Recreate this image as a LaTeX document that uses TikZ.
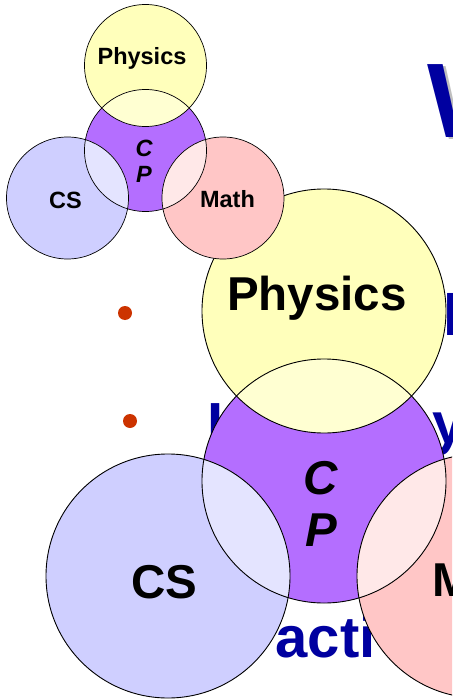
\documentclass[tikz,border=0pt]{standalone}
\usepackage{fontspec}
\setmainfont{Liberation Sans}
\definecolor{phy}{HTML}{FFFFBB}
\definecolor{cpc}{HTML}{B46EFF}
\definecolor{csc}{HTML}{CFCFFF}
\definecolor{mac}{HTML}{FFC6C6}
\definecolor{phycp}{HTML}{FFFFD2}
\definecolor{cscp}{HTML}{E4E4FF}
\definecolor{macp}{HTML}{FFE8E8}
\definecolor{slideblue}{HTML}{0000A0}
\definecolor{bulletc}{HTML}{CC3300}
\tikzset{
  lbl/.style={anchor=base,inner sep=0pt,text=black},
  slidetxt/.style={anchor=base west,inner sep=0pt,text=slideblue,font=\fontsize{58}{58}\selectfont\bfseries},
  ring/.style={draw=black,line width=#1},
}
% #1,#2 shift, #3 scale, #4 font size, #5 name suffix, #6 outline width
\newcommand\venndiagram[6]{%
\begin{scope}[shift={(#1,#2)},scale=#3]
  \fill[phy] (145.5,65.5) circle[radius=61];
  \fill[cpc] (145.5,150.5) circle[radius=61];
  \fill[csc] (67.5,198) circle[radius=61];
  \fill[mac] (223,198) circle[radius=61];
  \begin{scope}
    \clip (145.5,150.5) circle[radius=61];
    \fill[phycp] (145.5,65.5) circle[radius=61];
    \fill[cscp] (67.5,198) circle[radius=61];
    \fill[macp] (223,198) circle[radius=61];
  \end{scope}
  \draw[ring=#6] (145.5,65.5) circle[radius=61];
  \draw[ring=#6] (145.5,150.5) circle[radius=61];
  \draw[ring=#6] (67.5,198) circle[radius=61];
  \draw[ring=#6] (223,198) circle[radius=61];
  \node[lbl,font=\fontsize{#4}{#4}\selectfont\bfseries] (phys#5) at (142,65) {Physics};
  \node[lbl,font=\fontsize{#4}{#4}\selectfont\bfseries\itshape] (c#5) at (144,157) {C};
  \node[lbl,font=\fontsize{#4}{#4}\selectfont\bfseries\itshape] (p#5) at (144,183) {P};
  \node[lbl,font=\fontsize{#4}{#4}\selectfont\bfseries] (cs#5) at (65.5,209) {CS};
  \node[lbl,font=\fontsize{#4}{#4}\selectfont\bfseries] (math#5) at (227.5,208) {Math};
\end{scope}}
\begin{document}
\begin{tikzpicture}[x=1pt,y=-1pt]
\useasboundingbox (0,0) rectangle (452,700);
\clip (0,0) rectangle (452,700);
\fill[white] (0,0) rectangle (452,700);
% slide background
\node[anchor=base west,inner sep=0pt,text=black!25,font=\fontsize{106}{106}\selectfont\bfseries] (wshadow) at (430,140) {W};
\node[anchor=base west,inner sep=0pt,text=slideblue,font=\fontsize{106}{106}\selectfont\bfseries] (wtitle) at (427,138) {W};
\fill[bulletc] (125,313) circle[radius=7];
\fill[bulletc] (130,421) circle[radius=7];
\node[slidetxt] (l1) at (443.5,335.5) {l};
\node[slidetxt] (l2a) at (207.3,443.5) {I};
\node[slidetxt] (l2b) at (432.5,443.5) {y};
\node[slidetxt] (l3) at (275.5,657) {acti};
% big diagram
\venndiagram{33}{180}{2}{47.5}{B}{0.9pt}
% small diagram
\venndiagram{0}{0}{1}{23.5}{S}{0.7pt}
\end{tikzpicture}
\end{document}
